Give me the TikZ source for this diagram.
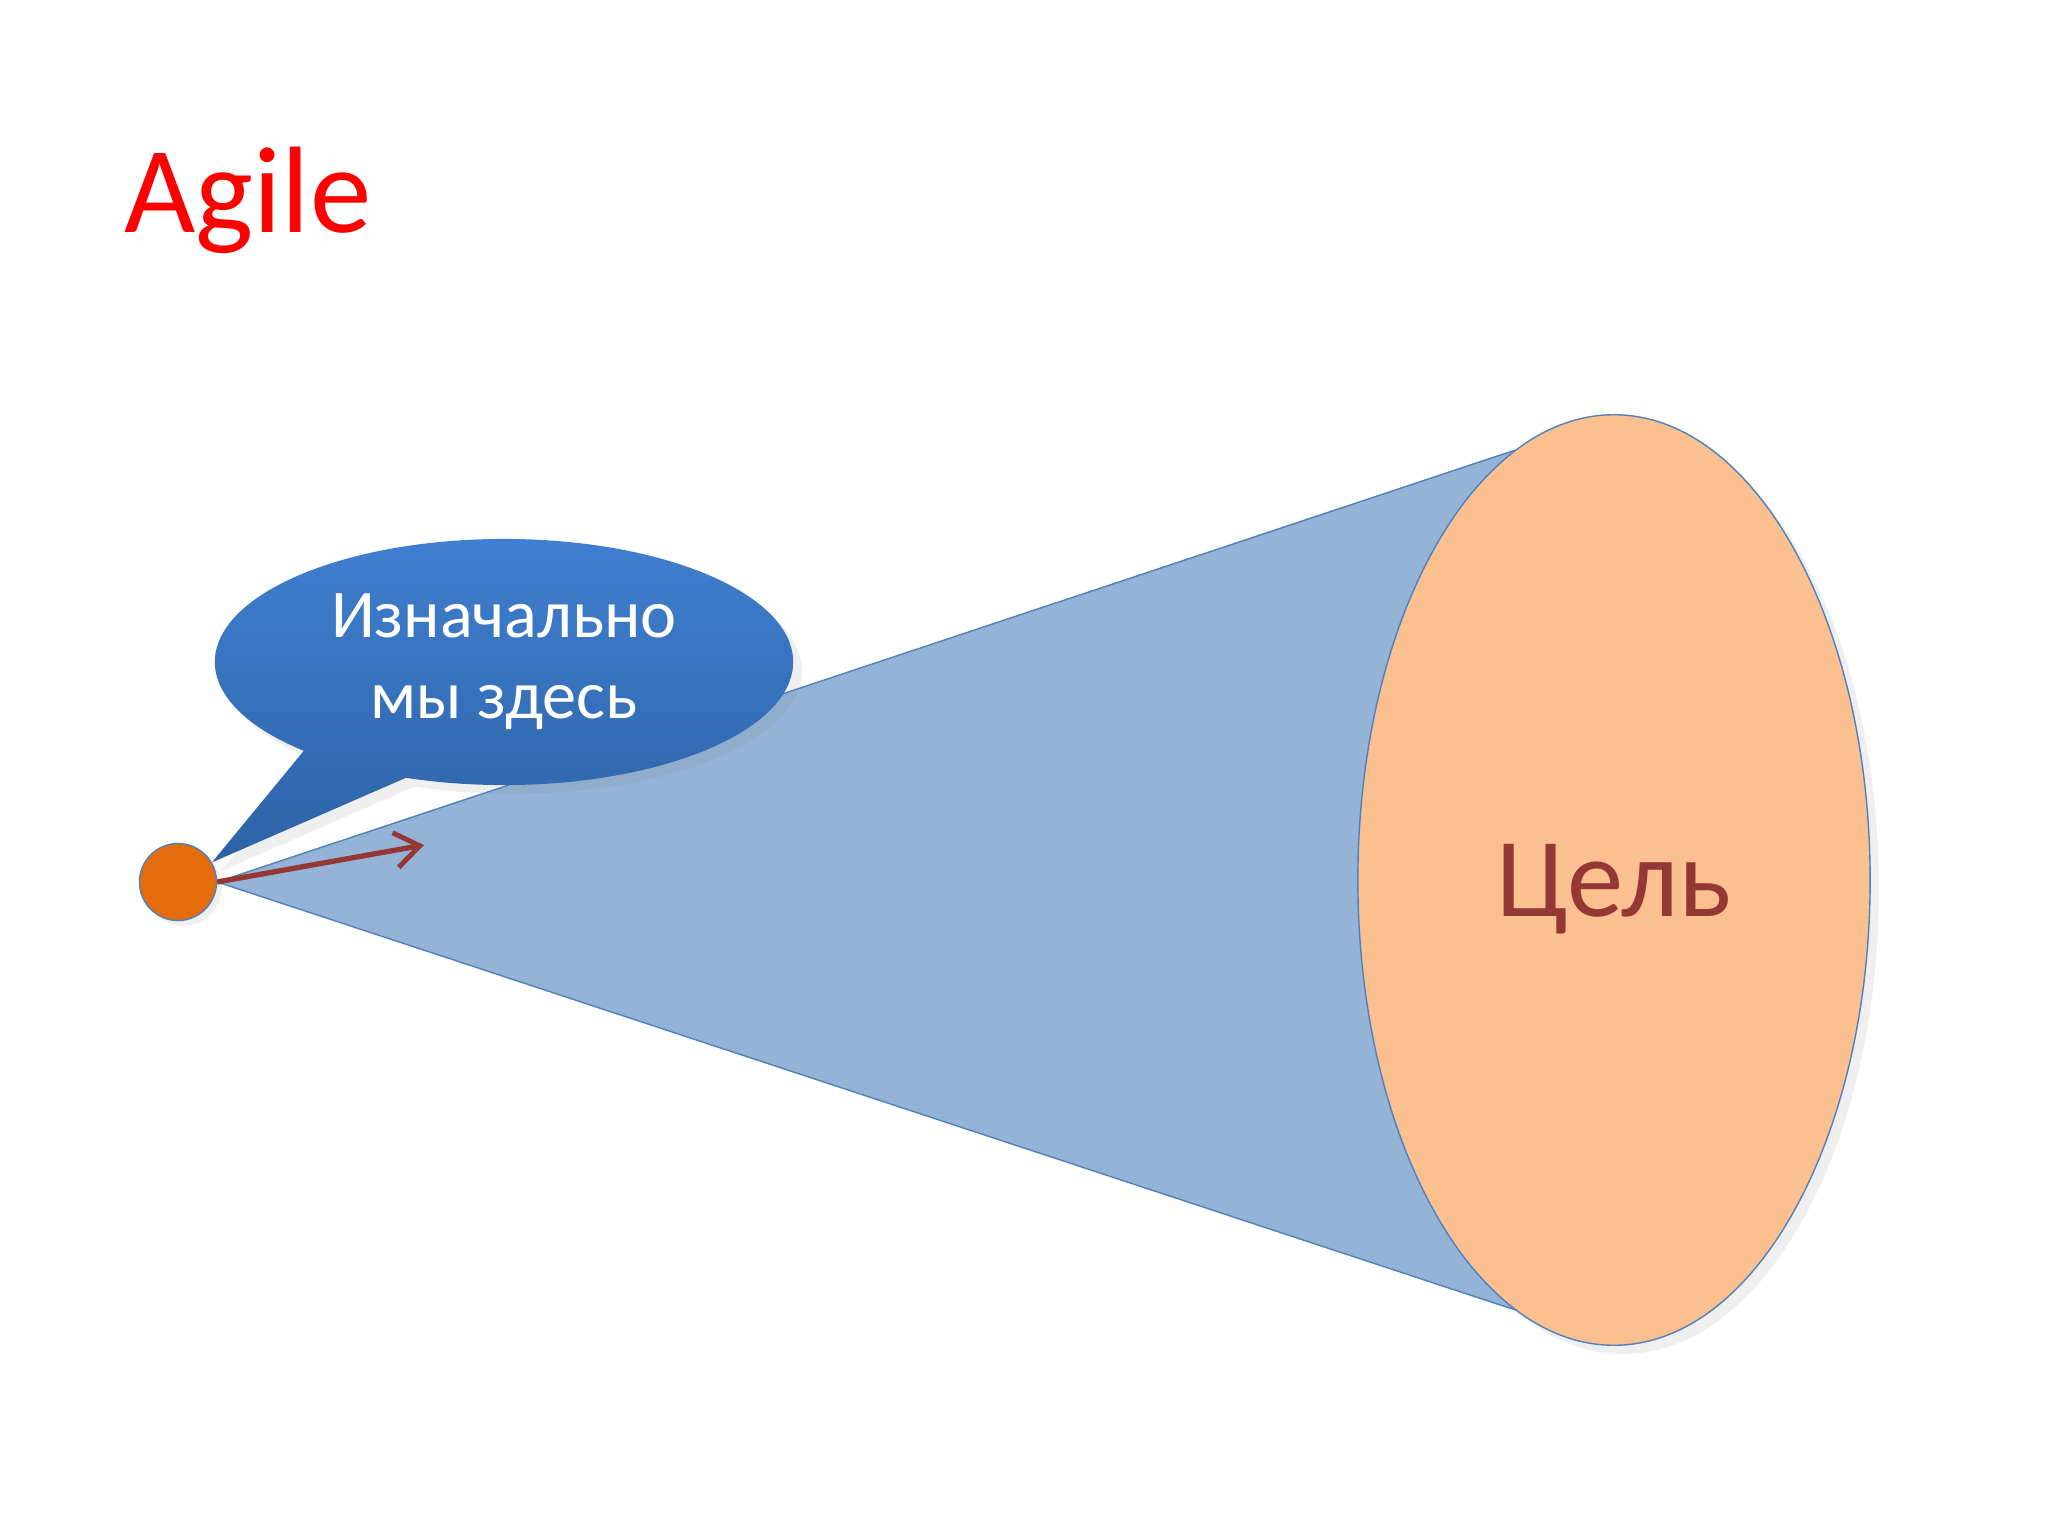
\documentclass[tikz,border=0pt]{standalone}
\usepackage{fontspec}
\setmainfont{Carlito}
\usepackage{tikz}
\usetikzlibrary{
    arrows.meta,
    shapes.geometric,
    shapes.callouts,
    shadows,
    backgrounds
}
\definecolor{conefill}{HTML}{95B3D7}
\definecolor{coneline}{HTML}{4F81BD}
\definecolor{goalfill}{HTML}{FAC090}
\definecolor{goaltext}{HTML}{953735}
\definecolor{dotfill}{HTML}{E46C0A}
\definecolor{bubbletop}{HTML}{3F7FCF}
\definecolor{bubblebottom}{HTML}{2D62A6}

\begin{document}
\begin{tikzpicture}[x=0.01cm, y=-0.01cm]
    \node[anchor=base west, text=red, font=\fontsize{35}{42}\selectfont] (title) at (112, 232) {Agile};
    \node[circle, inner sep=0pt, minimum size=0.77cm, fill=dotfill, draw=coneline, thin, drop shadow={opacity=0.12, shadow xshift=1.5pt, shadow yshift=-1.5pt}] (start) at (178, 882) {};
    \node[ellipse, inner sep=0pt, minimum width=5.12cm, minimum height=9.3cm, fill=goalfill, draw=coneline, thin, text=goaltext, text depth=0pt, font=\fontsize{32}{40}\selectfont, drop shadow={opacity=0.12, shadow xshift=2.5pt, shadow yshift=-2.5pt}] (goal) at (1614, 880) {Цель};
    \coordinate (aim) at (424, 845);
    \node[ellipse callout, callout absolute pointer={(start.30)}, callout pointer arc=24, inner sep=0pt, minimum width=5.78cm, minimum height=2.46cm, top color=bubbletop, bottom color=bubblebottom, text=white, align=center, font=\fontsize{19.4}{23}\selectfont, drop shadow={opacity=0.12, shadow xshift=2.5pt, shadow yshift=-2.5pt}] (bubble) at (504, 662) {Изначально\\мы здесь};

    \begin{pgfonlayer}{background}
        \fill[white] (0, 0) rectangle (2048, 1536);
        \fill[conefill] (start.east) -- (goal.103) -- (goal.257) -- cycle;
        \draw[coneline, thin]
        (start.east) -- (goal.103)
        (start.east) -- (goal.257);
    \end{pgfonlayer}

    \draw[-{Straight Barb[length=7pt, width=10pt, line width=1.4pt]}, line width=1.5pt, goaltext] (start.east) -- (aim);
\end{tikzpicture}
\end{document}
